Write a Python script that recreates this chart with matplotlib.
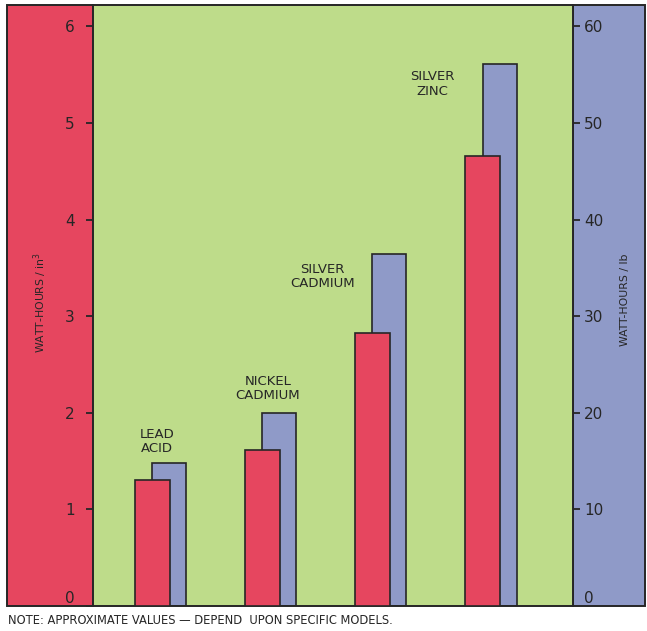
import matplotlib
matplotlib.use("Agg")
import matplotlib.pyplot as plt
from matplotlib.patches import Rectangle
import numpy as np

# ---- data ----
categories = ["LEAD\nACID", "NICKEL\nCADMIUM", "SILVER\nCADMIUM", "SILVER\nZINC"]
wh_per_in3 = [1.30, 1.61, 2.83, 4.66]      # left axis (red bars)
wh_per_lb = [14.8, 20.0, 36.4, 56.1]       # right axis (blue bars)
left_ticks = [0, 1, 2, 3, 4, 5, 6]
right_ticks = [0, 10, 20, 30, 40, 50, 60]
note = "NOTE: APPROXIMATE VALUES \u2014 DEPEND  UPON SPECIFIC MODELS."

# ---- style ----
RED = "#e6465f"
GREEN = "#bedc8a"
BLUE = "#8f9ac8"
DARK = "#262626"
W, H = 647, 631

plt.rcParams['font.family'] = ['DejaVu Sans']

fig = plt.figure(figsize=(W / 100, H / 100), dpi=100)
fig.patch.set_facecolor("white")


def fr(x0, y0, x1, y1):
    """pixel box (top-left origin) -> figure fraction rect"""
    return (x0 / W, 1 - y1 / H), (x1 - x0) / W, (y1 - y0) / H


# side panels
for (x0, x1, c) in [(7, 93, RED), (573, 645, BLUE)]:
    xy, w, h = fr(x0, 5, x1, 606)
    fig.add_artist(Rectangle(xy, w, h, transform=fig.transFigure,
                             facecolor=c, edgecolor=DARK, lw=1.4, zorder=0))

# main axes
ax = fig.add_axes([93 / W, 1 - 606 / H, 480 / W, 601 / H])
ax.set_facecolor(GREEN)
ax.set_ylim(0, 6.22)
ax.set_xlim(-0.613, 3.743)
ax.set_xticks([])
for s in ax.spines.values():
    s.set_color(DARK)
    s.set_linewidth(1.4)

x = np.arange(len(categories))
off = 0.077
ax.bar(x + off, np.array(wh_per_lb) / 10.0, width=0.31, color=BLUE,
       edgecolor=DARK, linewidth=1.2, zorder=2)
ax.bar(x - off, wh_per_in3, width=0.318, color=RED,
       edgecolor=DARK, linewidth=1.2, zorder=3)

# category labels (placement)
label_x = [-0.03, 0.975, 1.466, 2.464]
label_y = [1.56, 2.11, 3.27, 5.26]
for lx, ly, t in zip(label_x, label_y, categories):
    ax.text(lx, ly, t, ha="center", va="bottom", fontsize=9.5,
            color=DARK, linespacing=1.15, zorder=4)

# left ticks
ax.set_yticks(left_ticks)
ax.set_yticklabels([str(v) for v in left_ticks])
ax.tick_params(axis="y", direction="out", length=5, width=1.3,
               color=DARK, labelcolor=DARK, labelsize=11, pad=8)
t0 = ax.yaxis.get_major_ticks()[0]
t0.tick1line.set_visible(False)
t0.label1.set_va("bottom")

# right axis
ax2 = ax.twinx()
ax2.set_ylim(0, 62.2)
ax2.set_yticks(right_ticks)
ax2.set_yticklabels([str(v) for v in right_ticks])
ax2.tick_params(axis="y", direction="out", length=5, width=1.3,
                color=DARK, labelcolor=DARK, labelsize=11, pad=3)
for s in ax2.spines.values():
    s.set_visible(False)
r0 = ax2.yaxis.get_major_ticks()[0]
r0.tick2line.set_visible(False)
r0.label2.set_va("bottom")

# axis titles
fig.text(40 / W, 1 - 302 / H, "WATT-HOURS / in$^3$", rotation=90,
         ha="center", va="center", fontsize=7.8, color=DARK)
fig.text(625 / W, 1 - 300 / H, "WATT-HOURS / lb", rotation=90,
         ha="center", va="center", fontsize=7.8, color=DARK)

# note
fig.text(8 / W, 1 - 620 / H, note, ha="left", va="center",
         fontsize=8.3, color=DARK)

fig.savefig("out.png", dpi=100, facecolor="white")
